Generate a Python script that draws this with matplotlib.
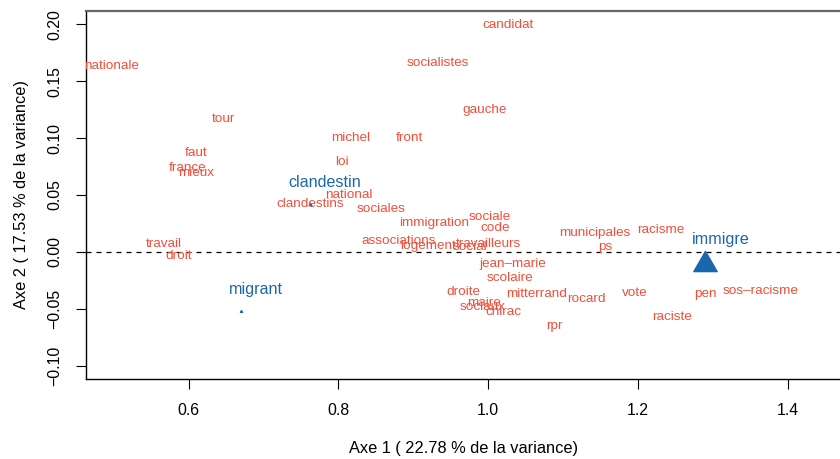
import matplotlib
matplotlib.use("Agg")
import matplotlib.pyplot as plt
from matplotlib.path import Path

plt.rcParams["font.family"] = ["Liberation Sans", "DejaVu Sans"]

# Column words (red labels) - CA coordinates
words = [
    "nationale", "candidat", "socialistes", "gauche", "tour", "michel", "front",
    "faut", "loi", "france", "mieux", "national", "clandestins", "sociales",
    "immigration", "sociale", "code", "associations", "logement", "social",
    "travailleurs", "travail", "droit", "municipales", "racisme", "ps",
    "jean\u2013marie", "scolaire", "droite", "mitterrand", "rocard", "vote",
    "pen", "sos\u2013racisme", "maire", "sociaux", "chirac", "raciste", "rpr",
]
word_x = [
    0.497, 1.026, 0.933, 0.995, 0.647, 0.816, 0.895,
    0.610, 0.804, 0.599, 0.610, 0.814, 0.762, 0.857,
    0.928, 1.002, 1.009, 0.880, 0.920, 0.976,
    1.000, 0.567, 0.587, 1.142, 1.231, 1.157,
    1.033, 1.029, 0.967, 1.064, 1.131, 1.196,
    1.290, 1.364, 0.995, 0.992, 1.020, 1.245, 1.089,
]
word_y = [
    0.163, 0.199, 0.166, 0.125, 0.117, 0.100, 0.100,
    0.087, 0.079, 0.074, 0.069, 0.050, 0.042, 0.038,
    0.025, 0.031, 0.021, 0.010, 0.005, 0.004,
    0.007, 0.007, -0.004, 0.017, 0.019, 0.004,
    -0.011, -0.023, -0.035, -0.037, -0.041, -0.036,
    -0.037, -0.034, -0.045, -0.048, -0.053, -0.057, -0.065,
]

# Row terms (blue points)
terms = ["clandestin", "migrant", "immigre"]
term_x = [0.762, 0.670, 1.290]
term_y = [0.042, -0.052, -0.008]
term_size = [2.0, 1.5, 16.8]

RED = "#f24e3a"
BLUE = "#1a67ad"

fig = plt.figure(figsize=(8.4, 4.59), dpi=100)
ax = fig.add_axes([85.5 / 840, 80 / 459, 756 / 840, 368 / 459])
ax.set_xlim(0.462, 1.472)
ax.set_ylim(-0.1117, 0.2117)

ax.axhline(0, color="black", lw=0.9, linestyle=(0, (4, 4)))

for w, x, y in zip(words, word_x, word_y):
    ax.text(x, y, w, color=RED, fontsize=9.7, ha="center", va="center", clip_on=True)

tri = Path([(-1, -0.866), (1, -0.866), (0, 0.866), (-1, -0.866)],
           [Path.MOVETO, Path.LINETO, Path.LINETO, Path.CLOSEPOLY])
for t, x, y, s in zip(terms, term_x, term_y, term_size):
    ax.plot(x, y, marker=tri, markersize=s, color=BLUE, linestyle="none")
    ax.annotate(t, (x, y), xytext=(10.8, 15.8), textcoords="offset points",
                color=BLUE, fontsize=11.6, ha="center", va="center")

ax.set_xticks([0.6, 0.8, 1.0, 1.2, 1.4])
ax.set_xticklabels(["0.6", "0.8", "1.0", "1.2", "1.4"])
ax.set_yticks([-0.10, -0.05, 0.0, 0.05, 0.10, 0.15, 0.20])
ax.set_yticklabels(["\u22120.10", "\u22120.05", "0.00", "0.05", "0.10", "0.15", "0.20"],
                   rotation=90, va="center")
ax.tick_params(axis="both", length=7, width=0.8, labelsize=11.4, pad=10)

ax.spines["right"].set_visible(False)
ax.spines["top"].set_color("#666666")
ax.spines["top"].set_linewidth(1.6)
for side in ["left", "bottom"]:
    ax.spines[side].set_linewidth(1.0)

ax.set_xlabel("Axe 1 ( 22.78 % de la variance)", fontsize=11.8, labelpad=17)
ax.set_ylabel("Axe 2 ( 17.53 % de la variance)", fontsize=11.8, labelpad=13)

fig.savefig("out.png", dpi=100)
